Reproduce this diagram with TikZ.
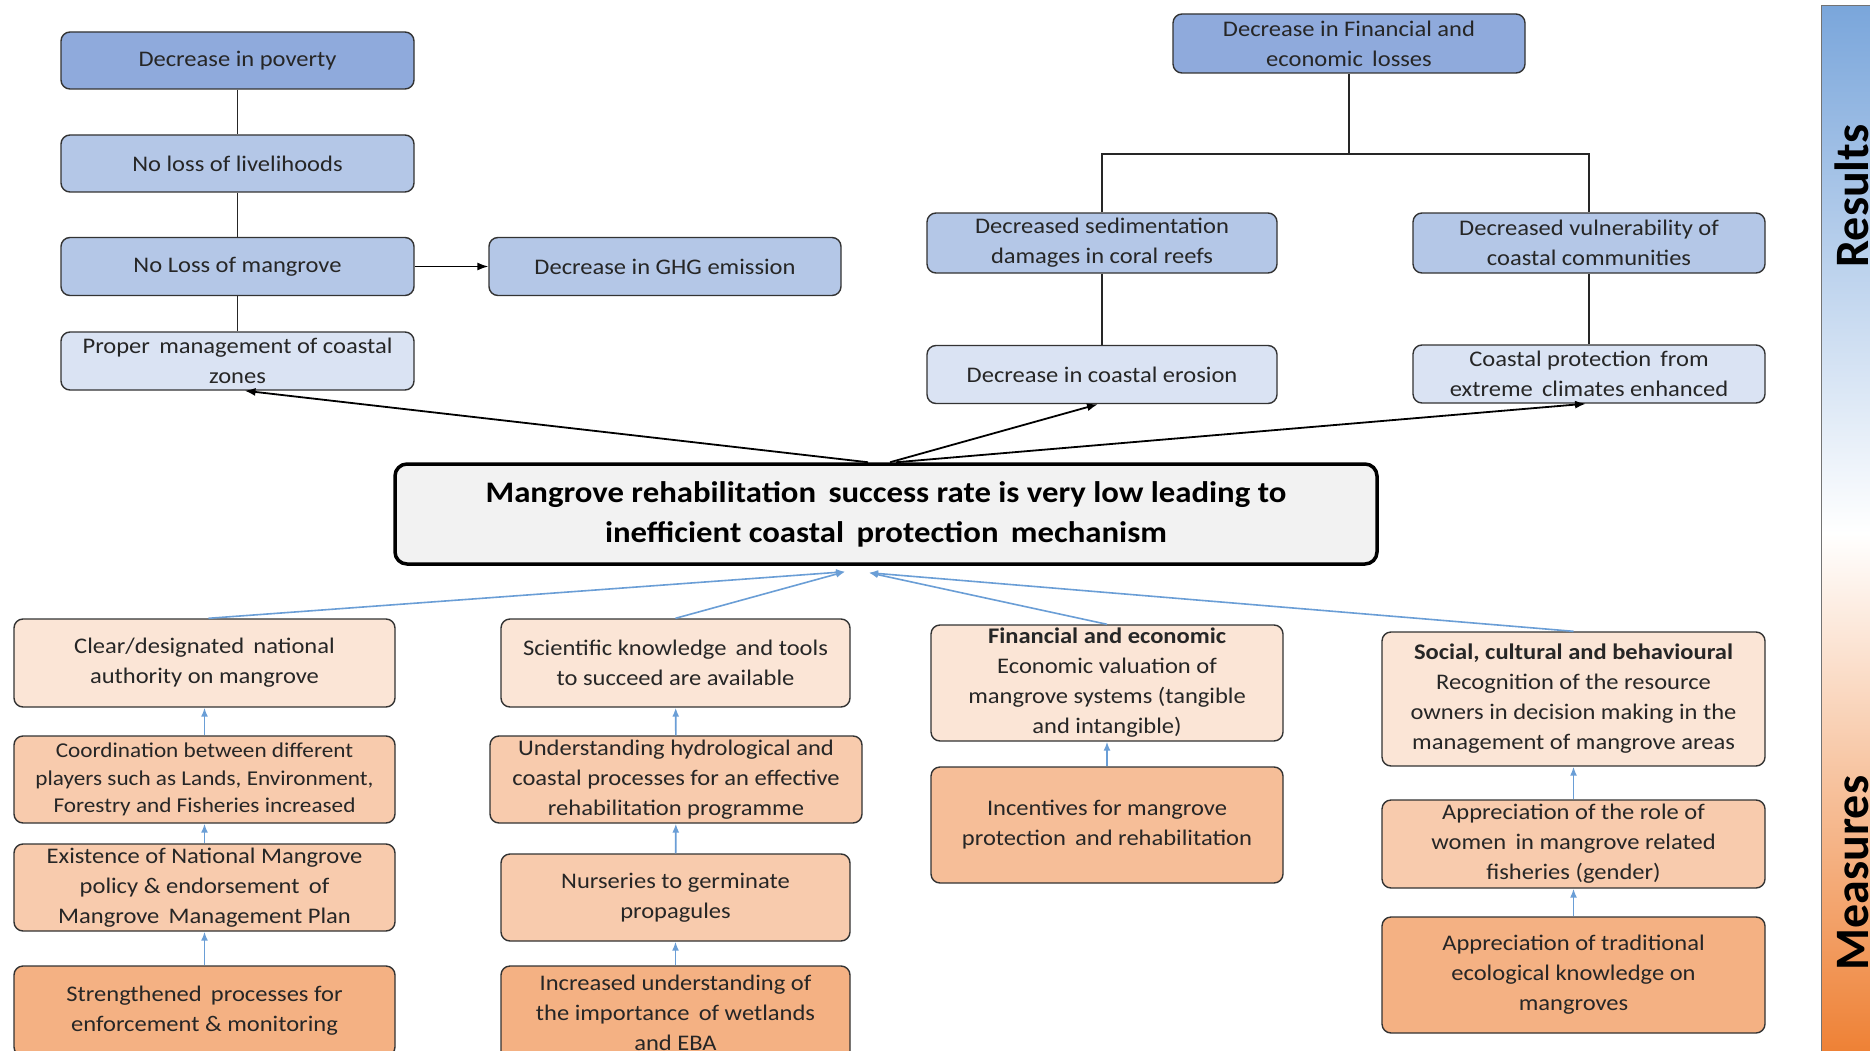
\documentclass[tikz,border=0pt]{standalone}
\usepackage{fontspec}
\setmainfont{Carlito}[FakeStretch=1.1]
\newfontfamily\sidefont{Carlito}
\usetikzlibrary{arrows.meta}
\definecolor{bluedark}{HTML}{8FAADC}
\definecolor{bluemid}{HTML}{B4C7E7}
\definecolor{bluelight}{HTML}{DAE3F3}
\definecolor{peachlight}{HTML}{FBE5D6}
\definecolor{peachmid}{HTML}{F8CBAD}
\definecolor{peachdark}{HTML}{F4B183}
\definecolor{incent}{HTML}{F6BE98}
\definecolor{linkblue}{HTML}{6A9ED6}
\definecolor{txt}{HTML}{262626}
\definecolor{bartop}{HTML}{7AA6DB}
\definecolor{barbot}{HTML}{EE7F32}
\definecolor{coregray}{HTML}{F2F2F2}
\begin{document}
\begin{tikzpicture}[x=1pt,y=-1pt,
  box/.style={draw=black!80, line width=1.4pt, rounded corners=9pt, align=center,
    inner sep=0pt, text=txt, font=\fontsize{22.3}{30}\selectfont},
  tree/.style={draw=black!85, line width=1.3pt},
  up/.style={draw=linkblue, line width=1.6pt, -{Latex[length=9pt,width=7pt]}},
  outarrow/.style={draw=black, line width=1.8pt, -{Latex[length=11pt,width=8pt]}},
  sidelabel/.style={rotate=90, anchor=base, text=black, font=\sidefont\fontsize{48}{48}\selectfont\bfseries},
]
\useasboundingbox (0,0) rectangle (1870,1051);
\clip (0,0) rectangle (1870,1051);
\fill[white] (0,0) rectangle (1870,1051);

% side bar with the two headings
\shade[top color=bartop, bottom color=barbot, middle color=white] (1821,6) rectangle (1880,1060);
\draw[black!55, line width=1pt] (1821,1060) -- (1821,6) -- (1880,6);
\node[sidelabel] (res) at (1868,196) {Results};
\node[sidelabel] (mea) at (1868,873) {Measures};

% results: left chain
\node[box, fill=bluedark, minimum width=353pt, minimum height=57pt] (pov) at (237.5,60.5) {Decrease in poverty};
\node[box, fill=bluemid, minimum width=353pt, minimum height=57pt] (liv) at (237.5,163.5) {No loss of livelihoods};
\node[box, fill=bluemid, minimum width=353pt, minimum height=58pt] (man) at (237.5,266.5) {No Loss of mangrove};
\node[box, fill=bluelight, minimum width=353pt, minimum height=58pt] (pm) at (237.5,361) {Proper\, management of coastal\\zones};
\node[box, fill=bluemid, minimum width=352pt, minimum height=58pt] (ghg) at (665,266.5) {Decrease in GHG emission};

% results: right tree
\node[box, fill=bluedark, minimum width=352pt, minimum height=59pt] (fin) at (1349,43.5) {Decrease in Financial and\\economic\, losses};
\node[box, fill=bluemid, minimum width=350pt, minimum height=60pt] (sed) at (1102,243) {Decreased sedimentation\\damages in coral reefs};
\node[box, fill=bluemid, minimum width=352pt, minimum height=60pt] (vul) at (1589,243) {Decreased vulnerability of\\coastal communities};
\node[box, fill=bluelight, minimum width=350pt, minimum height=58pt] (ero) at (1102,374.5) {Decrease in coastal erosion};
\node[box, fill=bluelight, minimum width=352pt, minimum height=58pt] (cp) at (1589,374) {Coastal protection\, from\\extreme\, climates enhanced};

% core problem
\node[box, fill=coregray, draw=black, line width=3.5pt, rounded corners=12pt, text=black,
  minimum width=982pt, minimum height=100pt, font=\fontsize{29.8}{40}\selectfont\bfseries] (cen) at (886,514)
  {Mangrove rehabilitation\, success rate is very low leading to\\inefficient coastal\, protection\, mechanism};

% measures: column 1
\node[box, fill=peachlight, minimum width=381pt, minimum height=88pt] (clear) at (204.5,663) {Clear/designated\, national\\authority on mangrove};
\node[box, fill=peachmid, minimum width=381pt, minimum height=87pt, font=\fontsize{21.1}{27.5}\selectfont] (coord) at (204.5,779.5) {Coordination between different\\players such as Lands, Environment,\\Forestry and Fisheries increased};
\node[box, fill=peachmid, minimum width=381pt, minimum height=87pt] (exist) at (204.5,887.5) {Existence of National Mangrove\\policy \& endorsement\, of\\Mangrove\, Management Plan};
\node[box, fill=peachdark, minimum width=381pt, minimum height=90pt] (streng) at (204.5,1011) {Strengthened\, processes for\\enforcement \& monitoring};

% measures: column 2
\node[box, fill=peachlight, minimum width=349pt, minimum height=88pt] (sci) at (675.5,663) {Scientific knowledge\, and tools\\to succeed are available};
\node[box, fill=peachmid, minimum width=372pt, minimum height=87pt] (und) at (676,779.5) {Understanding hydrological and\\coastal processes for an effective\\rehabilitation programme};
\node[box, fill=peachmid, minimum width=349pt, minimum height=87pt] (nur) at (675.5,897.5) {Nurseries to germinate\\propagules};
\node[box, fill=peachdark, minimum width=349pt, minimum height=94pt] (incr) at (675.5,1013) {Increased understanding of\\the importance\, of wetlands\\and EBA};

% measures: column 3
\node[box, fill=peachlight, minimum width=352pt, minimum height=116pt] (finm) at (1107,683) {\textbf{Financial and economic}\\Economic valuation of\\mangrove systems (tangible\\and intangible)};
\node[box, fill=incent, minimum width=352pt, minimum height=116pt] (ince) at (1107,825) {Incentives for mangrove\\protection\, and rehabilitation};

% measures: column 4
\node[box, fill=peachlight, minimum width=383pt, minimum height=134pt] (soc) at (1573.5,699) {\textbf{Social, cultural and behavioural}\\Recognition of the resource\\owners in decision making in the\\management of mangrove areas};
\node[box, fill=peachmid, minimum width=383pt, minimum height=88pt] (wom) at (1573.5,844) {Appreciation of the role of\\women\, in mangrove related\\fisheries (gender)};
\node[box, fill=peachdark, minimum width=383pt, minimum height=116pt] (trad) at (1573.5,975) {Appreciation of traditional\\ecological knowledge on\\mangroves};

% results connectors
\draw[tree] (pov) -- (liv);
\draw[tree] (liv) -- (man);
\draw[tree] (man) -- (pm);
\draw[outarrow, line width=1.4pt] (man.east) -- (ghg.west);
\coordinate (hb) at (1349,154);
\draw[tree] (fin.south) -- (hb);
\draw[tree] (sed.north) |- (hb) -| (vul.north);
\draw[tree] (sed) -- (ero);
\draw[tree] (vul) -- (cp);

% core problem to results
\draw[outarrow] ([xshift=-18pt]cen.north) -- ([xshift=7pt]pm.south);
\draw[outarrow] ([xshift=4pt]cen.north) -- ([xshift=-4pt]ero.south);
\draw[outarrow] ([xshift=10pt]cen.north) -- ([xshift=-3pt]cp.south);

% measures to core problem
\coordinate (tipL) at ([xshift=-41pt,yshift=-6pt]cen.south);
\coordinate (tipR) at ([xshift=-17pt,yshift=-7pt]cen.south);
\draw[up] ([xshift=4pt]clear.north) -- (tipL);
\draw[up] (sci.north) -- (tipL);
\draw[up] (finm.north) -- (tipR);
\draw[up] (soc.north) -- (tipR);

% measures chains
\draw[up] (coord) -- (clear);
\draw[up] (exist) -- (coord);
\draw[up] (streng) -- (exist);
\draw[up] (und) -- (sci);
\draw[up] (nur) -- (und);
\draw[up] (incr) -- (nur);
\draw[up] (ince) -- (finm);
\draw[up] (wom) -- (soc);
\draw[up] (trad) -- (wom);
\end{tikzpicture}
\end{document}
